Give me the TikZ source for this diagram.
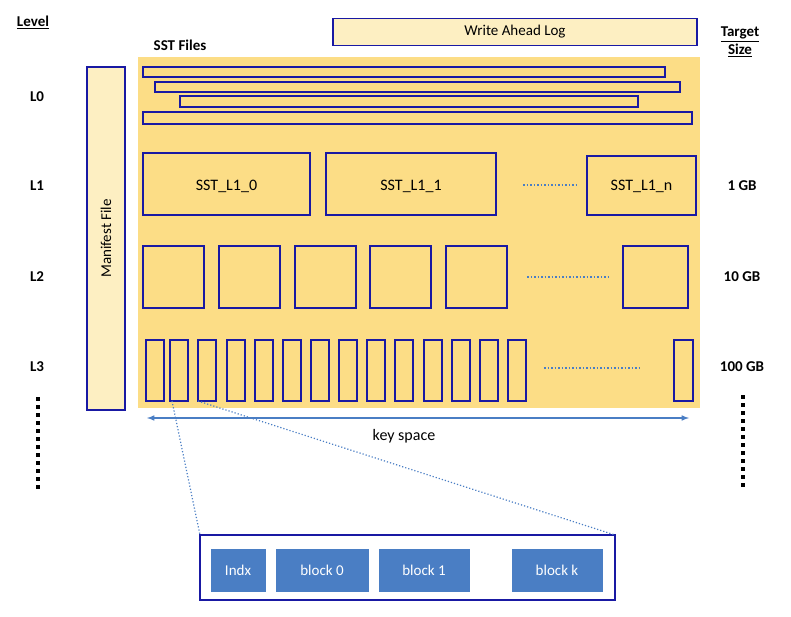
\documentclass[tikz,border=0pt]{standalone}
\usepackage{fontspec}
\setmainfont{Carlito}
\begin{document}
\begin{tikzpicture}[x=1pt,y=-1pt,
 bx/.style={draw=blue!60!black!80,line width=1.5pt},
 lbl/.style={font=\bfseries\fontsize{15}{17}\selectfont},
 blk/.style={fill=bluefill,draw=white,line width=1pt,text=white,font=\fontsize{15}{17}\selectfont,minimum height=44pt,inner sep=0pt},
 dl/.style={draw=bluefill,dotted,line width=1.5pt}]
\definecolor{bluefill}{HTML}{4A7EC4}
\definecolor{gold}{HTML}{FCDD86}
\definecolor{lyel}{HTML}{FDEFC2}
\colorlet{bb}{blue!60!black}
\tikzset{bx/.style={draw=bb!90,line width=1.6pt}}
\useasboundingbox (0,0) rectangle (791,617);
\fill[gold] (138,57) rectangle (700,408);
\node[lbl] (lev) at (33,22) {\underline{Level}};
\node[lbl,align=center] (tgt) at (740,42) {\underline{Target}\\[1pt]\underline{Size}};
\node[lbl] (sst) at (180,45) {SST Files};
\node[bx,fill=lyel,minimum width=364pt,minimum height=27pt,inner sep=0pt,font=\fontsize{15}{17}\selectfont] (wal) at (515,32) {Write Ahead Log};
\node[bx,fill=lyel,minimum width=38pt,minimum height=343pt,inner sep=0pt] (man) at (106,238.5) {};
\node[rotate=90,font=\fontsize{15}{17}\selectfont] (mant) at (man.center) {Manifest File};
\node[lbl] (l0) at (37,97) {L0};
\node[lbl] (l1) at (37,186) {L1};
\node[lbl] (l2) at (37,277) {L2};
\node[lbl] (l3) at (37,367) {L3};
\node[lbl] (s1) at (742,186) {1 GB};
\node[lbl] (s2) at (742,277) {10 GB};
\node[lbl] (s3) at (742,367) {100 GB};
% L0
\draw[bx,line width=1.3pt] (143,67) rectangle (665,77);
\draw[bx,line width=1.3pt] (155,82) rectangle (680,92);
\draw[bx,line width=1.3pt] (180,96) rectangle (638,107);
\draw[bx,line width=1.3pt] (143,112) rectangle (692,124);
% L1
\tikzset{t/.style={font=\fontsize{16}{18}\selectfont}}
\draw[bx] (143,153) rectangle (310,215); \node[t] (a0) at (226.5,186) {SST\_L1\_0};
\draw[bx] (326,153) rectangle (496,215); \node[t] (a1) at (411,186) {SST\_L1\_1};
\draw[bx] (587,156) rectangle (696,215); \node[t] (an) at (641.5,186) {SST\_L1\_n};
\coordinate (d1a) at (523,185); \coordinate (d1b) at (577,185);
\draw[dl] (d1a) -- (d1b);
% L2
\foreach \x in {143,219,295,370,446} \draw[bx] (\x,246) rectangle ++(61,62);
\draw[bx] (623,246) rectangle (688,308);
\coordinate (d2a) at (527,277); \coordinate (d2b) at (608,277);
\draw[dl] (d2a) -- (d2b);
% L3
\foreach \x in {146,170,198,227,255,283,311,339,367,395,424,452,480,508} \draw[bx,line width=1.4pt] (\x,340) rectangle ++(18,61);
\draw[bx,line width=1.4pt] (674,340) rectangle (693,401);
\coordinate (d3a) at (544,368); \coordinate (d3b) at (640,368);
\draw[dl] (d3a) -- (d3b);
% key space
\coordinate (ka) at (147,418); \coordinate (kb) at (689,418);
\draw[bluefill,line width=1.5pt,<->,>=latex] (ka) -- (kb);
\node[font=\fontsize{16}{18}\selectfont] (ks) at (404,436) {key space};
% vertical dots
\coordinate (va) at (38,397); \coordinate (vb) at (38,491);
\coordinate (wa) at (743,395); \coordinate (wb) at (743,488);
\draw[line width=4pt,dash pattern=on 4pt off 4pt] (va) -- (vb);
\draw[line width=4pt,dash pattern=on 4pt off 4pt] (wa) -- (wb);
% zoom box
\draw[bx,fill=white,line width=1.5pt] (200,535) rectangle (615,600);
\coordinate (z1) at (172,401); \coordinate (z2) at (198,401);
\coordinate (z3) at (200,535); \coordinate (z4) at (615,535);
\draw[dl,line width=1.2pt] (z1) -- (z3);
\draw[dl,line width=1.2pt] (z2) -- (z4);
\node[blk,minimum width=56pt] (ix) at (238,570) {Indx};
\node[blk,minimum width=94pt] (b0) at (322,570) {block 0};
\node[blk,minimum width=92pt] (b1) at (424,570) {block 1};
\node[blk,minimum width=92pt] (bk) at (557,570) {block k};
\end{tikzpicture}
\end{document}
